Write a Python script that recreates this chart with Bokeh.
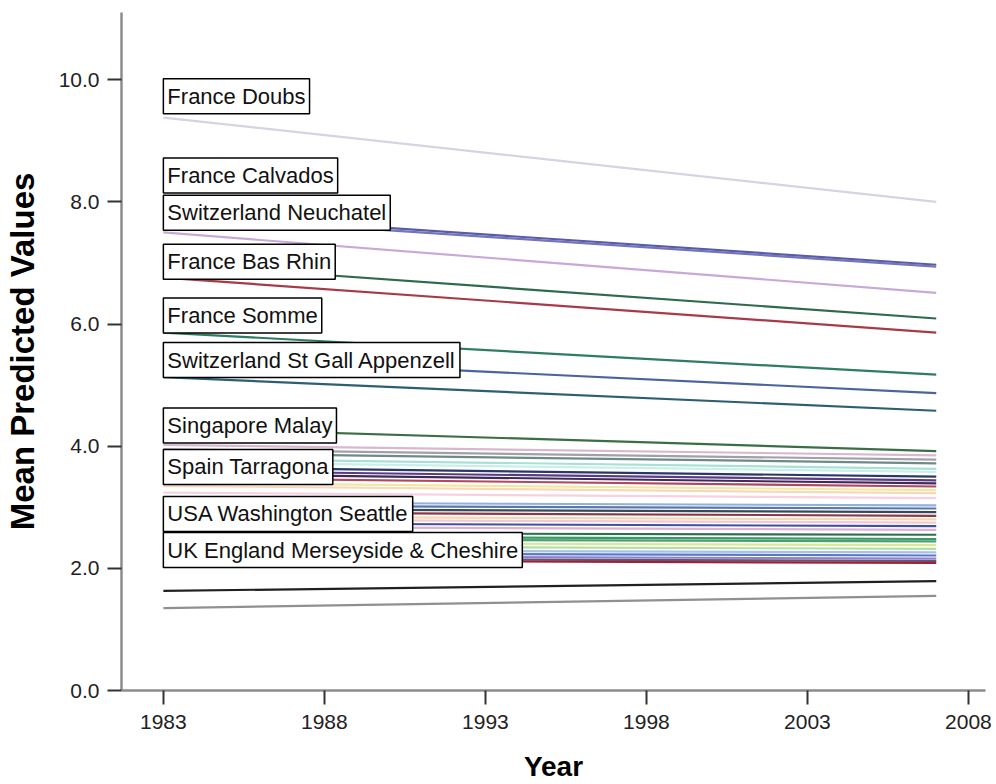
from bokeh.plotting import figure
from bokeh.models import Label, FixedTicker, PrintfTickFormatter, Range1d
from bokeh.embed import file_html
from bokeh.resources import INLINE

# ---- data (predicted values at first and last year) ----
years = [1983, 2007]

start_vals = [
    9.38, 7.82, 7.78, 7.50, 6.99, 6.76, 5.86, 5.47, 5.13, 4.30,
    4.02, 3.95, 3.89, 3.80, 3.74, 3.66, 3.60, 3.55, 3.48, 3.40, 3.35, 3.24,
    3.08, 3.03, 2.97, 2.92, 2.85, 2.80, 2.74, 2.68, 2.58, 2.52, 2.48, 2.42,
    2.36, 2.30, 2.25, 2.20, 2.16, 2.13,
    1.63, 1.35,
]
end_vals = [
    8.00, 6.97, 6.94, 6.51, 6.09, 5.86, 5.17, 4.87, 4.58, 3.92,
    3.85, 3.78, 3.72, 3.63, 3.58, 3.50, 3.44, 3.39, 3.34, 3.28, 3.23, 3.15,
    3.03, 2.98, 2.92, 2.86, 2.80, 2.75, 2.69, 2.63, 2.55, 2.48, 2.44, 2.38,
    2.32, 2.26, 2.21, 2.16, 2.12, 2.09,
    1.79, 1.55,
]
line_colors = [
    "#d4d4e2", "#5a5aa8", "#7474bc", "#c8a8d8", "#2f6a4f", "#a83a48", "#2e7d5e", "#4a64a0", "#2d5f73", "#3b6e45",
    "#d8b8d0", "#a0a0a8", "#6e8a88", "#a8e0d8", "#c8f0e8", "#283868", "#5a3a80", "#402858", "#b04860", "#f0e8a0", "#f8d8b8", "#f8d0e0",
    "#90b0e0", "#5878a8", "#384858", "#8a3848", "#f0d8b0", "#f0c8d8", "#4050a0", "#e0b0d0", "#2a7050", "#3a9860", "#48a070", "#d8e898",
    "#b0e0a0", "#a8c0e8", "#5878c8", "#9080d0", "#605878", "#a02030",
    "#202020", "#909090",
]

label_names = [
    "France Doubs", "France Calvados", "Switzerland Neuchatel", "France Bas Rhin",
    "France Somme", "Switzerland St Gall Appenzell", "Singapore Malay",
    "Spain Tarragona", "USA Washington Seattle", "UK England Merseyside & Cheshire",
]
label_vals = [9.73, 8.43, 7.82, 7.02, 6.14, 5.41, 4.34, 3.66, 2.89, 2.30]

x_ticks = [1983, 1988, 1993, 1998, 2003, 2008]
y_ticks = [0, 2, 4, 6, 8, 10]

FONT = "Liberation Sans"

p = figure(
    width=996, height=784,
    output_backend="svg", toolbar_location=None,
    x_range=Range1d(1981.7, 2008.53), y_range=Range1d(0, 11.1),
    min_border_left=117, min_border_right=11, min_border_top=12, min_border_bottom=91,
)
p.background_fill_color = "white"
p.border_fill_color = "white"
p.outline_line_color = None
p.grid.visible = False

for s, e, c in zip(start_vals, end_vals, line_colors):
    p.line(years, [s, e], line_color=c, line_width=2.2)

for name, yv in zip(label_names, label_vals):
    p.add_layout(Label(
        x=years[0], y=yv, text=name, x_offset=0,
        text_align="left", text_baseline="middle",
        text_font=FONT, text_font_size="22px", text_color="#111111",
        background_fill_color="white", border_line_color="black",
        border_line_width=1.5, padding=(4, 5),
    ))

p.xaxis.ticker = FixedTicker(ticks=x_ticks)
p.yaxis.ticker = FixedTicker(ticks=y_ticks)
p.xaxis.formatter = PrintfTickFormatter(format="%d")
p.yaxis.formatter = PrintfTickFormatter(format="%.1f")

for ax in (p.xaxis[0], p.yaxis[0]):
    ax.axis_line_color = "#8c8c8c"
    ax.axis_line_width = 2.5
    ax.major_tick_line_color = "#333333"
    ax.major_tick_line_width = 2
    ax.major_tick_out = 14
    ax.major_tick_in = 0
    ax.minor_tick_line_color = None
    ax.major_label_text_font = FONT
    ax.major_label_text_font_size = "21px"
    ax.major_label_text_color = "#222222"
    ax.axis_label_text_font = FONT
    ax.axis_label_text_font_style = "bold"
    ax.axis_label_text_color = "black"

p.xaxis.axis_label = "Year"
p.xaxis.axis_label_text_font_size = "28px"
p.xaxis.major_label_standoff = 10
p.xaxis.axis_label_standoff = 19

p.yaxis.axis_label = "Mean Predicted Values"
p.yaxis.axis_label_text_font_size = "33px"
p.yaxis.major_label_standoff = 8
p.yaxis.axis_label_standoff = 15

open("out.html", "w").write(file_html(p, INLINE))
